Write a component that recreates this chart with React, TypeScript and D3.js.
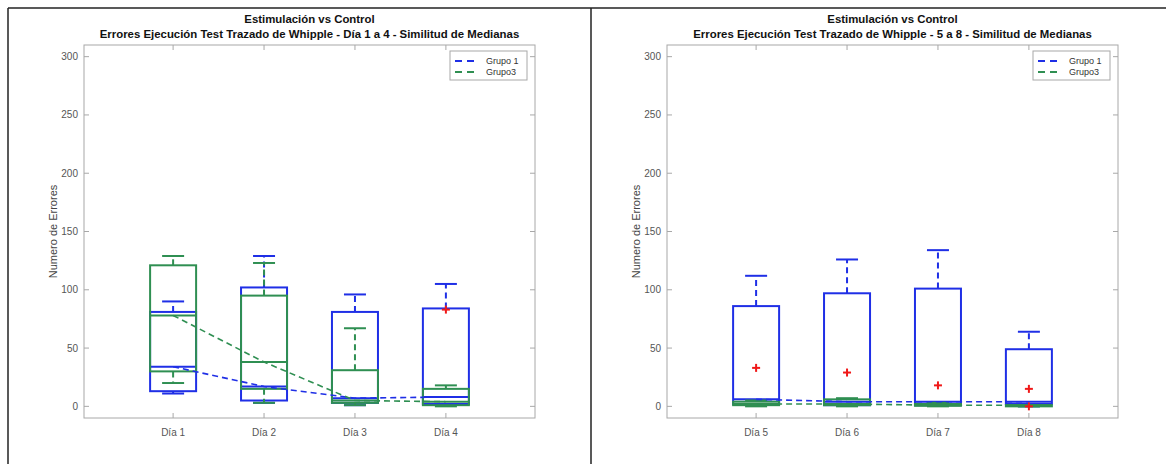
import React from "react";
import * as d3 from "d3";

// ---- data ----
const diasA = ["Día 1", "Día 2", "Día 3", "Día 4"];
const diasB = ["Día 5", "Día 6", "Día 7", "Día 8"];
const yTicks = [0, 50, 100, 150, 200, 250, 300];
const legendLabels = ["Grupo 1", "Grupo3"];
const titleMain = "Estimulación vs Control";
const subtitleA = "Errores Ejecución Test Trazado de Whipple - Día 1 a 4 - Similitud de Medianas";
const subtitleB = "Errores Ejecución Test Trazado de Whipple - 5 a 8 - Similitud de Medianas";

// [low whisker, q1, median, q3, high whisker]
const grupo1A = [
  [11, 13, 34, 81, 90],
  [3, 5, 17, 102, 129],
  [1, 3, 7, 81, 96],
  [1, 2, 8, 84, 105],
];
const grupo3A = [
  [20, 30, 78, 121, 129],
  [3, 15, 38, 95, 123],
  [1, 3, 5, 31, 67],
  [0, 1, 4, 15, 18],
];
const outliersA = [[4, 83]];

const grupo1B = [
  [1, 2, 6, 86, 112],
  [1, 1, 4, 97, 126],
  [1, 1, 4, 101, 134],
  [0, 2, 4, 49, 64],
];
const grupo3B = [
  [0, 1, 2, 4, 5],
  [0, 1, 2, 6, 7],
  [0, 0.5, 1, 2, 3],
  [0, 0, 1, 1, 1],
];
const outliersB = [[1, 33], [2, 29], [3, 18], [4, 15], [4, 0]];

const BLUE = "#1f2fe6";
const GREEN = "#2f8f52";
const RED = "#f01818";
const AXIS = "#a8a8a8";
const TICKTXT = "#555";
const FONT = "'Liberation Sans', Arial, Helvetica, sans-serif";

type PanelProps = {
  xl: number;
  xr: number;
  cats: string[];
  g1: number[][];
  g3: number[][];
  outliers: number[][];
  subtitle: string;
};

const yTop = 45;
const yBot = 418;

function BoxSet({ data, color, x, y }: { data: number[][]; color: string; x: any; y: any }) {
  const hw = 23;
  const cw = 11;
  return (
    <g>
      {data.map((d, i) => {
        const cx = x(i + 1);
        const [lo, q1, med, q3, hi] = d;
        return (
          <g key={i} stroke={color} fill="none">
            <line x1={cx} x2={cx} y1={y(q3)} y2={y(hi)} strokeWidth={2} strokeDasharray="6,4" />
            <line x1={cx} x2={cx} y1={y(q1)} y2={y(lo)} strokeWidth={2} strokeDasharray="6,4" />
            <line x1={cx - cw} x2={cx + cw} y1={y(hi)} y2={y(hi)} strokeWidth={2} />
            <line x1={cx - cw} x2={cx + cw} y1={y(lo)} y2={y(lo)} strokeWidth={2} />
            <rect x={cx - hw} y={y(q3)} width={2 * hw} height={y(q1) - y(q3)} strokeWidth={2} />
            <line x1={cx - hw} x2={cx + hw} y1={y(med)} y2={y(med)} strokeWidth={2} />
          </g>
        );
      })}
    </g>
  );
}

function Panel({ xl, xr, cats, g1, g3, outliers, subtitle }: PanelProps) {
  const x = d3.scaleLinear().domain([0.02, 4.98]).range([xl, xr]);
  const y = d3.scaleLinear().domain([-10, 310]).range([yBot, yTop]);
  const medLine = d3
    .line<number[]>()
    .x((_d, i) => x(i + 1))
    .y((d) => y(d[2]));
  const cxm = (xl + xr) / 2;
  const lgX = xr - 85;
  const lgY = 51;
  return (
    <g>
      <text x={cxm} y={23} textAnchor="middle" fontFamily={FONT} fontSize={11.4} fontWeight="bold" fill="#111">
        {titleMain}
      </text>
      <text x={cxm} y={38} textAnchor="middle" fontFamily={FONT} fontSize={11.4} fontWeight="bold" fill="#111">
        {subtitle}
      </text>
      {/* axes frame */}
      <rect x={xl} y={yTop} width={xr - xl} height={yBot - yTop} fill="white" stroke={AXIS} strokeWidth={1} />
      {yTicks.map((t) => (
        <g key={t}>
          <line x1={xl} x2={xl + 5} y1={y(t)} y2={y(t)} stroke={AXIS} />
          <line x1={xr} x2={xr - 5} y1={y(t)} y2={y(t)} stroke={AXIS} />
          <text x={xl - 6} y={y(t)} dy="0.35em" textAnchor="end" fontFamily={FONT} fontSize={10} fill={TICKTXT}>
            {t}
          </text>
        </g>
      ))}
      {cats.map((c, i) => (
        <g key={c}>
          <line x1={x(i + 1)} x2={x(i + 1)} y1={yBot} y2={yBot - 5} stroke={AXIS} />
          <line x1={x(i + 1)} x2={x(i + 1)} y1={yTop} y2={yTop + 5} stroke={AXIS} />
          <text x={x(i + 1)} y={436} textAnchor="middle" fontFamily={FONT} fontSize={10} fill={TICKTXT}>
            {c}
          </text>
        </g>
      ))}
      <text
        transform={`translate(${xl - 27},${(yTop + yBot) / 2}) rotate(-90)`}
        textAnchor="middle"
        fontFamily={FONT}
        fontSize={11}
        fill="#444"
      >
        Numero de Errores
      </text>
      <BoxSet data={g1} color={BLUE} x={x} y={y} />
      <BoxSet data={g3} color={GREEN} x={x} y={y} />
      <path d={medLine(g1) || ""} fill="none" stroke={BLUE} strokeWidth={1.6} strokeDasharray="6,4" />
      <path d={medLine(g3) || ""} fill="none" stroke={GREEN} strokeWidth={1.6} strokeDasharray="6,4" />
      {outliers.map((o, i) => (
        <g key={i} stroke={RED} strokeWidth={2}>
          <line x1={x(o[0]) - 4} x2={x(o[0]) + 4} y1={y(o[1])} y2={y(o[1])} />
          <line x1={x(o[0])} x2={x(o[0])} y1={y(o[1]) - 4} y2={y(o[1]) + 4} />
        </g>
      ))}
      {/* legend */}
      <rect x={lgX} y={lgY} width={77} height={29} fill="white" stroke={AXIS} />
      {legendLabels.map((l, i) => (
        <g key={l}>
          <line
            x1={lgX + 5}
            x2={lgX + 28}
            y1={lgY + 10 + i * 11}
            y2={lgY + 10 + i * 11}
            stroke={i === 0 ? BLUE : GREEN}
            strokeWidth={2}
            strokeDasharray="7,5"
          />
          <text x={lgX + 36} y={lgY + 10 + i * 11} dy="0.35em" fontFamily={FONT} fontSize={9} fill="#333">
            {l}
          </text>
        </g>
      ))}
    </g>
  );
}

export default function App() {
  return (
    <svg
      width={1166}
      height={464}
      style={{ position: "absolute", left: 0, top: 0, background: "white" }}
    >
      <rect x={0} y={0} width={1166} height={464} fill="white" />
      <Panel xl={84} xr={535} cats={diasA} g1={grupo1A} g3={grupo3A} outliers={outliersA} subtitle={subtitleA} />
      <Panel xl={667} xr={1118} cats={diasB} g1={grupo1B} g3={grupo3B} outliers={outliersB} subtitle={subtitleB} />
      <line x1={8} x2={1166} y1={8} y2={8} stroke="#222" strokeWidth={1.5} />
      <line x1={8} x2={8} y1={8} y2={464} stroke="#222" strokeWidth={1.5} />
      <line x1={591} x2={591} y1={8} y2={464} stroke="#222" strokeWidth={1.5} />
    </svg>
  );
}
